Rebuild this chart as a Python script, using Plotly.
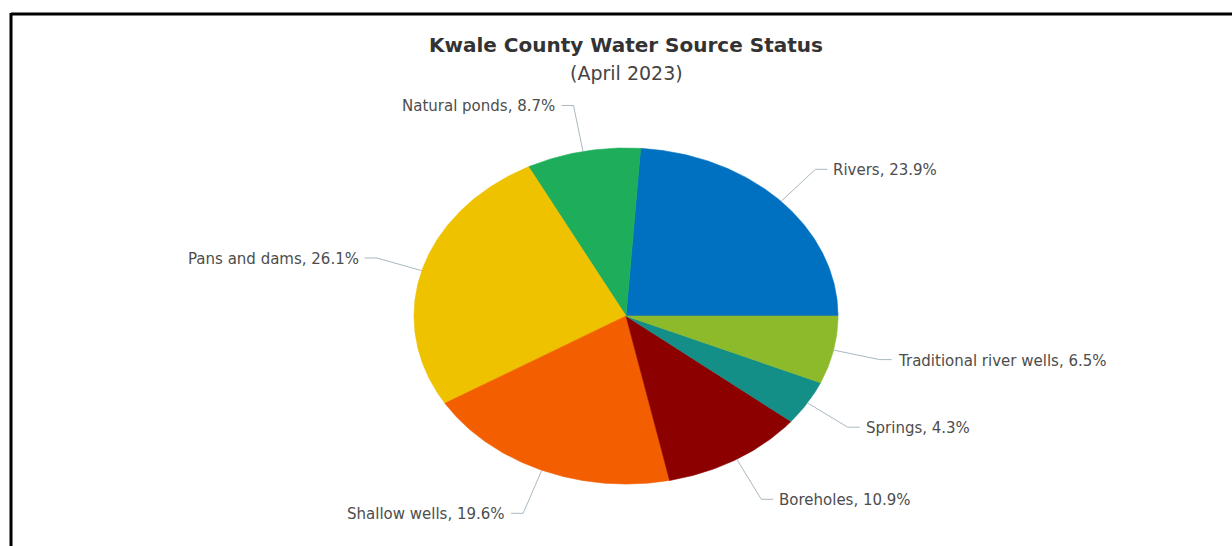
import numpy as np
import plotly.graph_objects as go

# Water source shares (percent), listed counter-clockwise from 3 o'clock
sources = [
    "Rivers",
    "Natural ponds",
    "Pans and dams",
    "Shallow wells",
    "Boreholes",
    "Springs",
    "Traditional river wells",
]
shares = [23.9, 8.7, 26.1, 19.6, 10.9, 4.3, 6.5]
colors = ["#0071c1", "#1eae5b", "#efc200", "#f25e00", "#8c0000", "#138f88", "#8cba2b"]

title_text = "Kwale County Water Source Status"
subtitle_text = "(April 2023)"

# Page geometry in pixels (axes are mapped 1:1 onto the page)
W, H = 1232, 546
CX, CY = 626, 316          # pie centre
RX, RY = 212, 168          # horizontal / vertical radii of the elliptical pie
LEADER = 47                # radial length of label leader line
ARM = 12                   # horizontal arm of leader line
GAP = 4                    # gap between arm and text
LABEL_FONT = dict(family="DejaVu Sans", size=15, color="#4d4d4d")
LEADER_COLOR = "#a9b8c0"

fig = go.Figure()

total = sum(shares)
start = 0.0
for name, val, col in zip(sources, shares, colors):
    span = 2 * np.pi * val / total
    theta = np.linspace(start, start + span, max(int(val * 6), 12))
    xs = np.concatenate([[CX], CX + RX * np.cos(theta), [CX]])
    ys = np.concatenate([[CY], CY - RY * np.sin(theta), [CY]])
    fig.add_trace(go.Scatter(
        x=xs, y=ys, mode="lines", fill="toself", fillcolor=col,
        line=dict(color=col, width=0.6), hoverinfo="text",
        text=f"{name}, {val}%", showlegend=False,
    ))

    # leader line from the slice edge at its mid angle
    mid = start + span / 2
    ex, ey = CX + RX * np.cos(mid), CY - RY * np.sin(mid)
    dx, dy = np.cos(mid), -np.sin(mid)
    bx, by = ex + LEADER * dx, ey + LEADER * dy
    side = 1 if dx >= 0 else -1
    ax = bx + side * ARM
    fig.add_trace(go.Scatter(
        x=[ex, bx, ax], y=[ey, by, by], mode="lines",
        line=dict(color=LEADER_COLOR, width=1), hoverinfo="skip", showlegend=False,
    ))
    fig.add_annotation(
        x=ax + side * GAP, y=by, xref="x", yref="y",
        text=f"{name}, {val}%", showarrow=False,
        xanchor="left" if side > 0 else "right", yanchor="middle",
        yshift=-1, font=LABEL_FONT,
    )
    start += span

# Title block
fig.add_annotation(x=CX, y=45, xref="x", yref="y", text=f"<b>{title_text}</b>",
                   showarrow=False, xanchor="center", yanchor="middle",
                   font=dict(family="DejaVu Sans", size=20, color="#333333"))
fig.add_annotation(x=CX, y=73, xref="x", yref="y", text=subtitle_text,
                   showarrow=False, xanchor="center", yanchor="middle",
                   font=dict(family="DejaVu Sans", size=19, color="#444444"))

# Frame lines along the top and left edges
fig.add_shape(type="line", x0=11, x1=W + 10, y0=14, y1=14, xref="x", yref="y",
              line=dict(color="black", width=3))
fig.add_shape(type="line", x0=11, x1=11, y0=13, y1=H + 10, xref="x", yref="y",
              line=dict(color="black", width=3))

fig.update_layout(
    width=W, height=H,
    margin=dict(l=0, r=0, t=0, b=0),
    paper_bgcolor="white", plot_bgcolor="white",
    xaxis=dict(range=[0, W], visible=False, fixedrange=True),
    yaxis=dict(range=[H, 0], visible=False, fixedrange=True),
    showlegend=False,
)

fig.write_html("out.html", config={"displayModeBar": False})
